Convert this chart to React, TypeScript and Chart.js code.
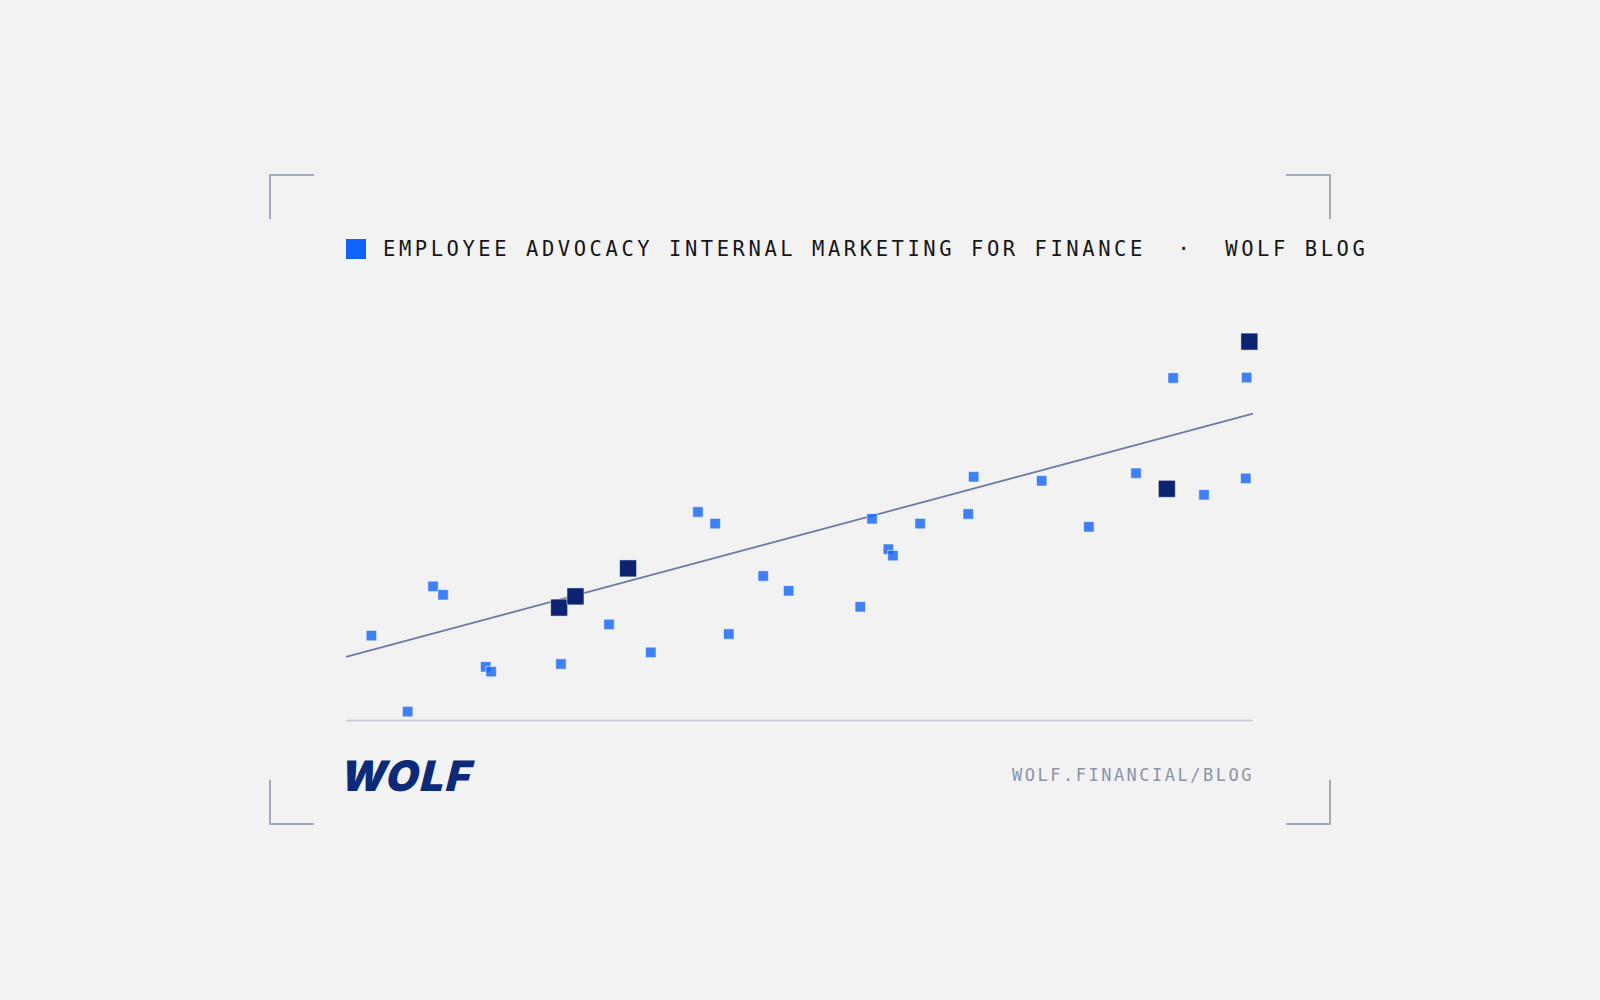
import React, { useEffect, useRef } from "react";
import { Chart, registerables } from "chart.js";

Chart.register(...registerables);

// ---- data ----
const lightX = [2.8, 6.8, 9.6, 10.7, 15.4, 16.0, 23.7, 29.0, 33.6, 38.8, 40.7, 42.2, 46.0, 48.8, 56.7, 58.0, 59.8, 60.3, 63.3, 68.6, 69.2, 76.7, 81.9, 87.1, 91.2, 94.6, 99.2, 99.3];
const lightY = [21.1, 2.1, 33.4, 31.3, 13.3, 12.1, 14.0, 23.9, 16.9, 52.0, 49.1, 21.5, 36.0, 32.3, 28.3, 50.3, 42.7, 41.1, 49.1, 51.5, 60.8, 59.8, 48.3, 61.7, 85.5, 56.3, 60.4, 85.6];
const darkX = [23.5, 25.3, 31.1, 90.5, 99.6];
const darkY = [28.1, 30.9, 37.9, 57.8, 94.6];
const trendX = [0, 100];
const trendY = [15.8, 76.6];

const titleText = "EMPLOYEE ADVOCACY INTERNAL MARKETING FOR FINANCE  \u00B7  WOLF BLOG";
const footerText = "WOLF.FINANCIAL/BLOG";
const logoText = "WOLF";

const toPoints = (xs: number[], ys: number[]) => xs.map((x, i) => ({ x, y: ys[i] }));

const baselinePlugin = {
  id: "baseline",
  beforeDatasetsDraw(chart: any) {
    const { ctx, chartArea, scales } = chart;
    const y = Math.round(scales.y.getPixelForValue(0)) + 0.5;
    ctx.save();
    ctx.strokeStyle = "#c4c8d8";
    ctx.lineWidth = 1.5;
    ctx.beginPath();
    ctx.moveTo(chartArea.left, y);
    ctx.lineTo(chartArea.right, y);
    ctx.stroke();
    ctx.restore();
  },
};

const bracketColor = "#a1aab6";

function Bracket({ left, top, h, v }: { left: number; top: number; h: "l" | "r"; v: "t" | "b" }) {
  const s: any = {
    position: "absolute",
    left,
    top,
    width: 45,
    height: 45,
    boxSizing: "border-box",
  };
  const b = `2px solid ${bracketColor}`;
  if (h === "l") s.borderLeft = b; else s.borderRight = b;
  if (v === "t") s.borderTop = b; else s.borderBottom = b;
  return <div style={s} />;
}

export default function App() {
  const ref = useRef<HTMLCanvasElement | null>(null);

  useEffect(() => {
    if (!ref.current) return;
    const chart = new Chart(ref.current, {
      type: "scatter",
      data: {
        datasets: [
          {
            type: "line",
            data: toPoints(trendX, trendY),
            borderColor: "#6e7ba5",
            borderWidth: 1.8,
            pointRadius: 0,
            pointHoverRadius: 0,
            fill: false,
            order: 3,
            clip: false,
          } as any,
          {
            data: toPoints(lightX, lightY),
            pointStyle: "rect",
            pointRadius: 7.4,
            pointHoverRadius: 7.4,
            backgroundColor: "rgba(18,100,245,0.8)",
            borderColor: "rgba(255,255,255,0.55)",
            borderWidth: 1,
            order: 2,
            clip: false,
          } as any,
          {
            data: toPoints(darkX, darkY),
            pointStyle: "rect",
            pointRadius: 12,
            pointHoverRadius: 12,
            backgroundColor: "#0b2370",
            borderColor: "rgba(255,255,255,0.5)",
            borderWidth: 1,
            order: 1,
            clip: false,
          } as any,
        ],
      },
      options: {
        responsive: false,
        maintainAspectRatio: false,
        animation: false,
        events: [],
        layout: { padding: { left: 20, right: 20, top: 20, bottom: 20 } },
        plugins: { legend: { display: false }, tooltip: { enabled: false }, title: { display: false } },
        scales: {
          x: { type: "linear", min: 0, max: 100, display: false },
          y: { type: "linear", min: 0, max: 100, display: false },
        },
      },
      plugins: [baselinePlugin],
    });
    return () => chart.destroy();
  }, []);

  return (
    <div
      style={{
        position: "absolute",
        left: 0,
        top: 0,
        width: 1600,
        height: 1000,
        background: "#f2f2f2",
        overflow: "hidden",
      }}
    >
      <Bracket left={269} top={174} h="l" v="t" />
      <Bracket left={1286} top={174} h="r" v="t" />
      <Bracket left={269} top={780} h="l" v="b" />
      <Bracket left={1286} top={780} h="r" v="b" />

      <div style={{ position: "absolute", left: 346, top: 239, width: 20, height: 20, background: "#0f62fe" }} />
      <div
        style={{
          position: "absolute",
          left: 383,
          top: 238.7,
          fontFamily: "'DejaVu Sans Mono', monospace",
          fontSize: 20.5,
          lineHeight: 1,
          letterSpacing: 3.55,
          color: "#161616",
          whiteSpace: "pre",
        }}
      >
        {titleText}
      </div>

      <canvas
        ref={ref}
        width={947}
        height={440}
        style={{ position: "absolute", left: 326, top: 300, width: 947, height: 440 }}
      />

      <div
        style={{
          position: "absolute",
          left: 337,
          top: 755,
          fontFamily: "Inter, 'DejaVu Sans', sans-serif",
          fontWeight: 900,
          fontSize: 42,
          lineHeight: 1,
          letterSpacing: 1.8,
          color: "#0d2a78",
          whiteSpace: "pre",
          transform: "skewX(-14deg)",
          transformOrigin: "0 100%",
        }}
      >
        {logoText}
      </div>

      <div
        style={{
          position: "absolute",
          left: 1012,
          top: 766.6,
          fontFamily: "'DejaVu Sans Mono', monospace",
          fontSize: 17,
          lineHeight: 1,
          letterSpacing: 2.5,
          color: "#8b93a7",
          whiteSpace: "pre",
        }}
      >
        {footerText}
      </div>
    </div>
  );
}
